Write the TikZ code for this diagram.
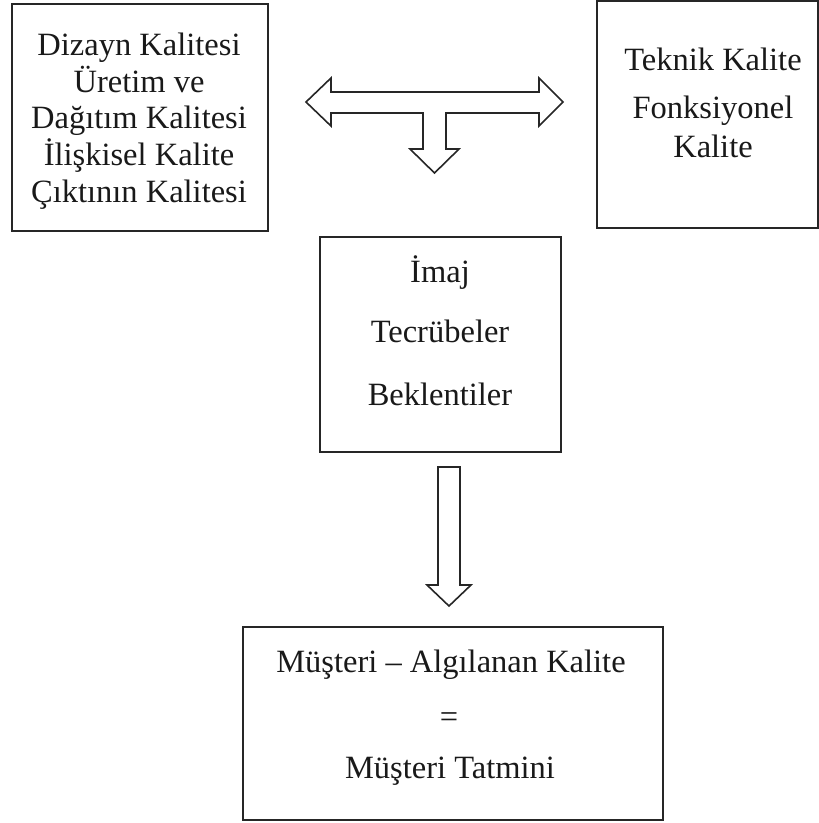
\documentclass[tikz,border=0pt]{standalone}
\usepackage{fontspec}
\setmainfont{Liberation Serif}
\begin{document}
\begin{tikzpicture}[x={(1pt,0)},y={(0,-1pt)},
  box/.style={draw=black!85,line width=1.6pt,fill=none,inner sep=0pt,outer sep=0pt},
  lbl/.style={anchor=base,inner sep=0pt,font=\fontsize{32.5}{38}\selectfont,text=black!90},
  blockarrow/.style={draw=black!85,line width=1.6pt,line join=miter,fill=white}]
\useasboundingbox (0,0) rectangle (819,823);
% boxes
\node[box,minimum width=256pt,minimum height=227pt] (left) at (140,117.5) {};
\node[box,minimum width=221pt,minimum height=227pt] (right) at (707.5,114.5) {};
\node[box,minimum width=241pt,minimum height=215pt] (mid) at (440.5,344.5) {};
\node[box,minimum width=420pt,minimum height=193pt] (bottom) at (453,723.5) {};
% texts
\node[lbl] (l1) at (139,55) {Dizayn Kalitesi};
\node[lbl] (l2) at (139,92) {Üretim ve};
\node[lbl] (l3) at (139,128) {Dağıtım Kalitesi};
\node[lbl] (l4) at (139,165) {İlişkisel Kalite};
\node[lbl] (l5) at (139,202) {Çıktının Kalitesi};
\node[lbl] (r1) at (713,70) {Teknik Kalite};
\node[lbl] (r2) at (713,118) {Fonksiyonel};
\node[lbl] (r3) at (713,157) {Kalite};
\node[lbl] (m1) at (440,282) {İmaj};
\node[lbl] (m2) at (440,342) {Tecrübeler};
\node[lbl] (m3) at (440,405) {Beklentiler};
\node[lbl] (b1) at (451,672) {Müşteri – Algılanan Kalite};
\node[lbl] (b2) at (449,727) {=};
\node[lbl] (b3) at (450,778) {Müşteri Tatmini};
% T-shaped block arrow
\draw[blockarrow] (306,102) -- (331,78) -- (331,92) -- (539,92) -- (539,78) -- (563,102)
  -- (539,126) -- (539,113) -- (446,113) -- (446,149) -- (459,149) -- (434.5,173)
  -- (410,149) -- (423,149) -- (423,113) -- (331,113) -- (331,126) -- cycle;
% vertical block arrow
\draw[blockarrow] (438,467) -- (460,467) -- (460,585) -- (471,585) -- (449,606)
  -- (427,585) -- (438,585) -- cycle;
\end{tikzpicture}
\end{document}
